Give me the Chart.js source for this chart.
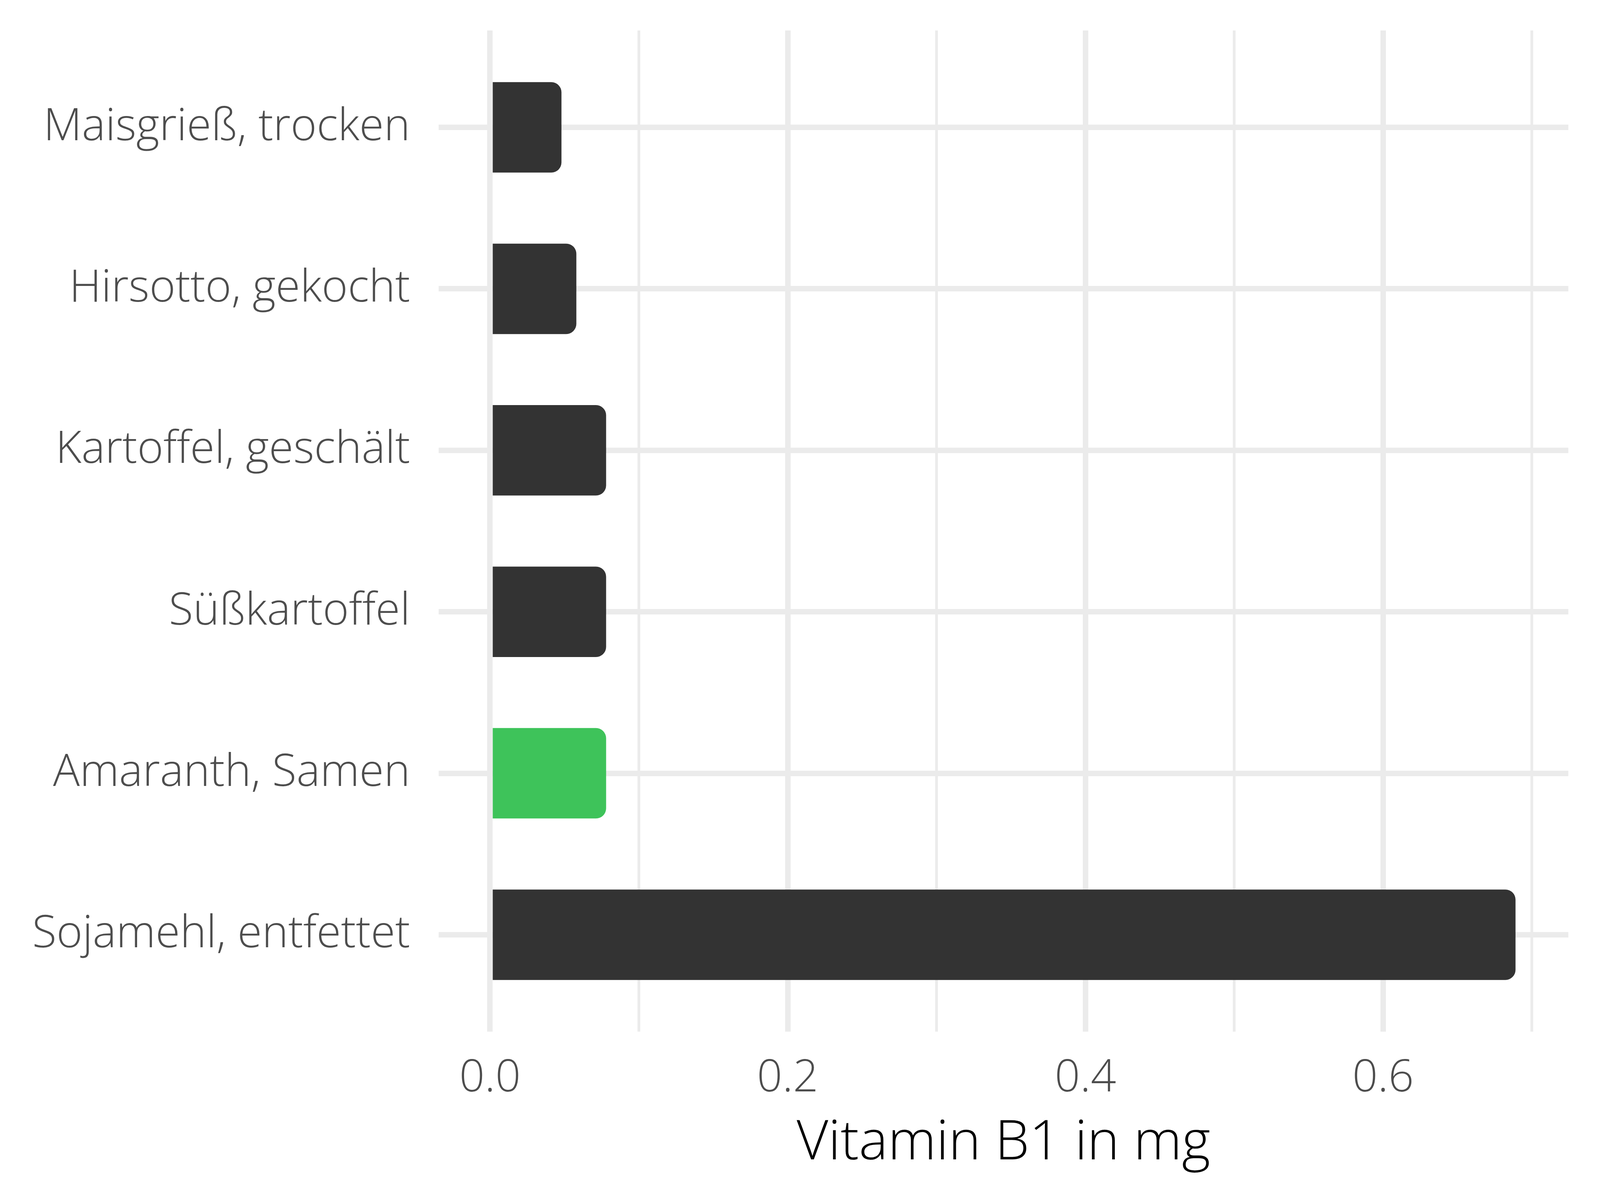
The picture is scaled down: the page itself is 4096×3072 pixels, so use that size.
<!DOCTYPE html>
<html>
<head>
<meta charset="utf-8">
<script src="https://cdn.jsdelivr.net/npm/chart.js@4"></script>
<style>
html,body{margin:0;padding:0;background:#fff;}
canvas{display:block;}
</style>
</head>
<body>
<canvas id="c" width="4096" height="3072"></canvas>
<script>
const categories = ['Maisgrieß, trocken', 'Hirsotto, gekocht', 'Kartoffel, geschält', 'Süßkartoffel', 'Amaranth, Samen', 'Sojamehl, entfettet'];
const values = [0.048, 0.058, 0.078, 0.078, 0.078, 0.689];
const highlight = [false, false, false, false, true, false];
const xTickValues = [0, 0.1, 0.2, 0.3, 0.4, 0.5, 0.6, 0.7];
const xTickLabels = ['0.0', '', '0.2', '', '0.4', '', '0.6', ''];
const axisTitle = 'Vitamin B1 in mg';

(function () {
  const W = 4096, H = 3072;
  const areaLeft = 1123, areaRight = 4015, areaTop = 78, areaBottom = 2641;
  const FONT = "'Open Sans'";

  const data = values.map((v, i) => ({x: v, y: i + 1}));
  const colors = highlight.map(h => h ? '#3EC35A' : '#333333');

  new Chart(document.getElementById('c'), {
    type: 'bar',
    data: {
      datasets: [{
        data: data,
        backgroundColor: colors,
        borderWidth: 0,
        borderRadius: 26,
        borderSkipped: 'start',
        barPercentage: 0.56,
        categoryPercentage: 1.0
      }]
    },
    options: {
      indexAxis: 'y',
      responsive: false,
      animation: false,
      devicePixelRatio: 1,
      layout: { padding: { top: areaTop, right: W - areaRight, left: 0, bottom: 0 } },
      plugins: { legend: { display: false }, tooltip: { enabled: false } },
      scales: {
        x: {
          type: 'linear',
          min: -0.0345,
          max: 0.7245,
          offset: false,
          afterBuildTicks: s => { s.ticks = xTickValues.map(v => ({value: v})); },
          afterFit: s => { s.height = H - areaBottom; },
          grid: {
            color: '#EBEBEB',
            lineWidth: ctx => (ctx.index % 2 === 0 ? 14 : 7),
            drawTicks: false,
            offset: false
          },
          border: { display: false },
          ticks: {
            autoSkip: false,
            maxRotation: 0,
            padding: 52,
            color: '#4D4D4D',
            font: { family: FONT, size: 114, weight: 300 },
            callback: (v, i) => xTickLabels[i]
          },
          title: {
            display: true,
            text: axisTitle,
            color: '#000000',
            font: { family: FONT, size: 140, weight: 300 },
            padding: { top: 0, bottom: 60 }
          }
        },
        y: {
          type: 'linear',
          reverse: true,
          min: 0.4,
          max: 6.6,
          offset: false,
          afterBuildTicks: s => { s.ticks = categories.map((c, i) => ({value: i + 1})); },
          afterFit: s => { s.width = areaLeft; s.paddingTop = 0; s.paddingBottom = 0; },
          grid: {
            color: '#EBEBEB',
            lineWidth: 14,
            drawTicks: false,
            offset: false
          },
          border: { display: false },
          ticks: {
            autoSkip: false,
            padding: 73,
            color: '#4D4D4D',
            font: { family: FONT, size: 114, weight: 300 },
            callback: v => categories[Math.round(v) - 1]
          }
        }
      }
    }
  });
})();
</script>
</body>
</html>
